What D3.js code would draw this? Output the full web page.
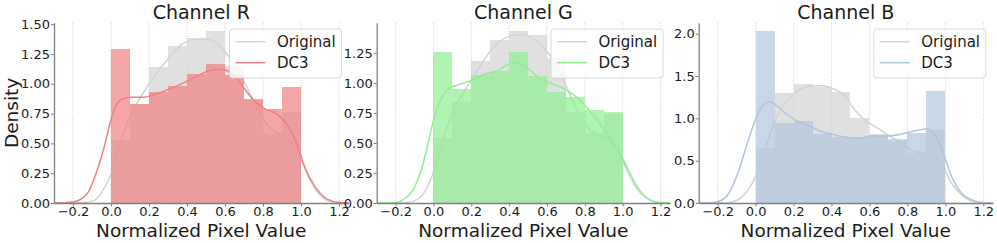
<!DOCTYPE html>
<html><head><meta charset="utf-8">
<script src="https://cdn.jsdelivr.net/npm/d3@7"></script>
<style>body{margin:0;background:#fff}svg{display:block}text{font-family:"DejaVu Sans",sans-serif}</style>
</head><body><svg id="c" width="997" height="243"></svg>
<script>
const panelTitles = ["Channel R", "Channel G", "Channel B"];
const seriesNames = ["Original", "DC3"];
const binStarts = [0.0, 0.1, 0.2, 0.3, 0.4, 0.5, 0.6, 0.7, 0.8, 0.9];
const binWidth = 0.1;
const xTicks = [-0.2, 0.0, 0.2, 0.4, 0.6, 0.8, 1.0, 1.2];
const yTicksR = [0, 0.25, 0.5, 0.75, 1.0, 1.25, 1.5];
const yTicksG = [0, 0.25, 0.5, 0.75, 1.0, 1.25];
const yTicksB = [0, 0.5, 1.0, 1.5, 2.0];

const origR = [0.53, 0.83, 1.14, 1.32, 1.38, 1.44, 1.15, 0.86, 0.58, 0.76];
const dc3R  = [1.29, 0.83, 0.93, 0.98, 1.08, 1.165, 1.07, 0.87, 0.79, 0.975];
const origG = [0.54, 0.84, 1.18, 1.36, 1.43, 1.40, 1.21, 0.76, 0.58, 0.74];
const dc3G  = [1.255, 0.953, 1.064, 1.097, 1.255, 1.056, 0.925, 0.884, 0.778, 0.756];
const origB = [0.65, 1.30, 1.405, 1.37, 1.315, 1.01, 0.82, 0.73, 0.59, 0.86];
const dc3B  = [2.03, 0.95, 0.97, 0.82, 0.78, 0.78, 0.80, 0.76, 0.83, 1.32];

const kdeOrigR = [[-0.3,0],[-0.2,0.001],[-0.142,0.004],[-0.09,0.02],[-0.037,0.12],[0,0.243],[0.033,0.416],[0.068,0.598],[0.121,0.79],[0.174,0.933],[0.226,1.06],[0.296,1.20],[0.367,1.324],[0.42,1.366],[0.468,1.374],[0.512,1.372],[0.547,1.352],[0.60,1.268],[0.653,1.142],[0.705,1.003],[0.758,0.836],[0.81,0.681],[0.863,0.598],[0.916,0.556],[0.96,0.486],[1.004,0.346],[1.056,0.165],[1.11,0.053],[1.16,0.01],[1.25,0]];
const kdeDc3R = [[-0.3,0],[-0.25,0.002],[-0.195,0.01],[-0.125,0.08],[-0.072,0.28],[-0.037,0.46],[-0.01,0.64],[0.016,0.78],[0.05,0.863],[0.10,0.886],[0.174,0.886],[0.226,0.908],[0.314,0.96],[0.40,1.022],[0.468,1.077],[0.53,1.115],[0.583,1.12],[0.635,1.087],[0.688,0.99],[0.75,0.863],[0.81,0.79],[0.88,0.737],[0.933,0.64],[0.977,0.50],[1.02,0.30],[1.074,0.137],[1.14,0.03],[1.21,0.002],[1.25,0]];
const kdeOrigG = [[-0.3,0],[-0.18,0.001],[-0.13,0.006],[-0.069,0.05],[-0.016,0.19],[0.02,0.357],[0.055,0.551],[0.108,0.773],[0.16,0.925],[0.213,1.05],[0.266,1.189],[0.319,1.30],[0.372,1.369],[0.425,1.397],[0.474,1.40],[0.51,1.383],[0.564,1.322],[0.616,1.23],[0.669,1.09],[0.722,0.898],[0.775,0.73],[0.828,0.607],[0.88,0.557],[0.933,0.524],[0.977,0.427],[1.022,0.274],[1.074,0.12],[1.127,0.04],[1.18,0.005],[1.25,0]];
const kdeDc3G = [[-0.3,0],[-0.2,0.004],[-0.156,0.03],[-0.104,0.12],[-0.06,0.30],[-0.024,0.524],[0.0,0.69],[0.037,0.856],[0.081,0.953],[0.143,0.99],[0.204,1.022],[0.266,1.07],[0.336,1.10],[0.407,1.161],[0.445,1.168],[0.51,1.106],[0.564,1.036],[0.634,0.99],[0.705,0.94],[0.775,0.856],[0.845,0.73],[0.916,0.58],[0.969,0.455],[1.004,0.357],[1.057,0.19],[1.11,0.066],[1.18,0.008],[1.25,0]];
const kdeOrigB = [[-0.3,0],[-0.17,0.002],[-0.123,0.012],[-0.07,0.075],[-0.018,0.232],[0.026,0.469],[0.061,0.705],[0.105,0.98],[0.14,1.138],[0.193,1.276],[0.246,1.355],[0.298,1.386],[0.351,1.386],[0.404,1.355],[0.47,1.266],[0.523,1.098],[0.576,0.98],[0.629,0.902],[0.699,0.803],[0.77,0.705],[0.822,0.626],[0.875,0.594],[0.928,0.575],[0.98,0.469],[1.033,0.232],[1.086,0.094],[1.139,0.02],[1.2,0.002],[1.25,0]];
const kdeDc3B = [[-0.3,0],[-0.25,0.002],[-0.2,0.015],[-0.141,0.115],[-0.088,0.39],[-0.044,0.705],[-0.009,0.94],[0.026,1.118],[0.07,1.197],[0.114,1.146],[0.158,1.06],[0.211,0.98],[0.281,0.909],[0.351,0.842],[0.422,0.803],[0.47,0.78],[0.541,0.764],[0.611,0.791],[0.699,0.791],[0.787,0.823],[0.857,0.862],[0.901,0.874],[0.945,0.803],[0.989,0.587],[1.033,0.311],[1.086,0.115],[1.139,0.035],[1.21,0.002],[1.25,0]];

const origColor = "rgb(211,211,211)";
const dc3Colors = ["rgb(240,128,128)", "rgb(144,238,144)", "rgb(176,196,222)"];

const panels = [
  {title: panelTitles[0], orig: origR, dc3: dc3R, kOrig: kdeOrigR, kDc3: kdeDc3R, yTicks: yTicksR, yFmt: ".2f", color: dc3Colors[0], left: 54, right: 348.5, yMax: 1.512, ylabel: true},
  {title: panelTitles[1], orig: origG, dc3: dc3G, kOrig: kdeOrigG, kDc3: kdeDc3G, yTicks: yTicksG, yFmt: ".2f", color: dc3Colors[1], left: 376.7, right: 670, yMax: 1.5015, ylabel: false},
  {title: panelTitles[2], orig: origB, dc3: dc3B, kOrig: kdeOrigB, kDc3: kdeDc3B, yTicks: yTicksB, yFmt: ".1f", color: dc3Colors[2], left: 698.7, right: 992.8, yMax: 2.13, ylabel: false}
];

const svg = d3.select("#c");
const plotTop = 22.7, plotBottom = 203;
const spineColor = "#808080";
const textColor = "#1a1a1a";

panels.forEach(p => {
  const x = d3.scaleLinear().domain([-0.3, 1.25]).range([p.left, p.right]);
  const y = d3.scaleLinear().domain([0, p.yMax]).range([plotBottom, plotTop]);
  const g = svg.append("g");

  g.selectAll(".grid").data(xTicks).join("line")
    .attr("x1", d => x(d)).attr("x2", d => x(d))
    .attr("y1", plotTop).attr("y2", plotBottom)
    .attr("stroke", "#bdbdbd").attr("stroke-width", 0.8)
    .attr("stroke-dasharray", "1,1.6");

  const line = d3.line().x(d => x(d[0])).y(d => y(d[1])).curve(d3.curveMonotoneX);

  const drawHist = (vals, color) => {
    g.append("g").selectAll("rect").data(vals).join("rect")
      .attr("x", (d, i) => x(binStarts[i]))
      .attr("width", (d, i) => x(binStarts[i] + binWidth) - x(binStarts[i]))
      .attr("y", d => y(d))
      .attr("height", d => y(0) - y(d))
      .attr("fill", color).attr("fill-opacity", 0.7)
      .attr("shape-rendering", "crispEdges");
  };
  drawHist(p.orig, origColor);
  g.append("path").datum(p.kOrig).attr("d", line)
    .attr("fill", "none").attr("stroke", origColor).attr("stroke-width", 1.5);
  drawHist(p.dc3, p.color);
  g.append("path").datum(p.kDc3).attr("d", line)
    .attr("fill", "none").attr("stroke", p.color).attr("stroke-width", 1.5);

  const xAxis = d3.axisBottom(x).tickValues(xTicks).tickFormat(d3.format(".1f"))
    .tickSize(3.5).tickPadding(0.5).tickSizeOuter(0);
  const ax = g.append("g").attr("transform", `translate(0,${plotBottom})`).call(xAxis);
  ax.select(".domain").attr("stroke", spineColor).attr("stroke-width", 1.3);
  ax.selectAll(".tick line").attr("stroke", spineColor);
  ax.selectAll("text").attr("font-size", 13).attr("fill", textColor).attr("font-family", "DejaVu Sans");

  const yAxis = d3.axisLeft(y).tickValues(p.yTicks).tickFormat(d3.format(p.yFmt))
    .tickSize(3).tickPadding(1).tickSizeOuter(0);
  const ay = g.append("g").attr("transform", `translate(${p.left},0)`).call(yAxis);
  ay.select(".domain").attr("stroke", spineColor).attr("stroke-width", 1.3);
  ay.selectAll(".tick line").attr("stroke", spineColor);
  ay.selectAll("text").attr("font-size", 13).attr("fill", textColor).attr("font-family", "DejaVu Sans");

  g.append("text").attr("x", (p.left + p.right) / 2).attr("y", 19)
    .attr("text-anchor", "middle").attr("font-size", 19).attr("fill", textColor).text(p.title);
  g.append("text").attr("x", (p.left + p.right) / 2).attr("y", 236.5)
    .attr("text-anchor", "middle").attr("font-size", 18.5).attr("fill", textColor).text("Normalized Pixel Value");
  if (p.ylabel) {
    g.append("text").attr("transform", `translate(18,${(plotTop + plotBottom) / 2}) rotate(-90)`)
      .attr("text-anchor", "middle").attr("font-size", 18.5).attr("fill", textColor).text("Density");
  }

  const lw = 112, lh = 49;
  const lx = p.right - 7 - lw, ly = 29;
  const leg = g.append("g").attr("transform", `translate(${lx},${ly})`);
  leg.append("rect").attr("width", lw).attr("height", lh).attr("rx", 3)
    .attr("fill", "#fff").attr("fill-opacity", 0.8).attr("stroke", "#d0d0d0").attr("stroke-width", 0.8);
  const legColors = [origColor, p.color];
  seriesNames.forEach((name, i) => {
    const yy = 12.7 + i * 21;
    leg.append("line").attr("x1", 6).attr("x2", 36).attr("y1", yy).attr("y2", yy)
      .attr("stroke", legColors[i]).attr("stroke-width", 1.5);
    leg.append("text").attr("x", 47.5).attr("y", yy).attr("dy", "0.35em")
      .attr("font-size", 15).attr("fill", textColor).text(name);
  });
});
</script></body></html>
